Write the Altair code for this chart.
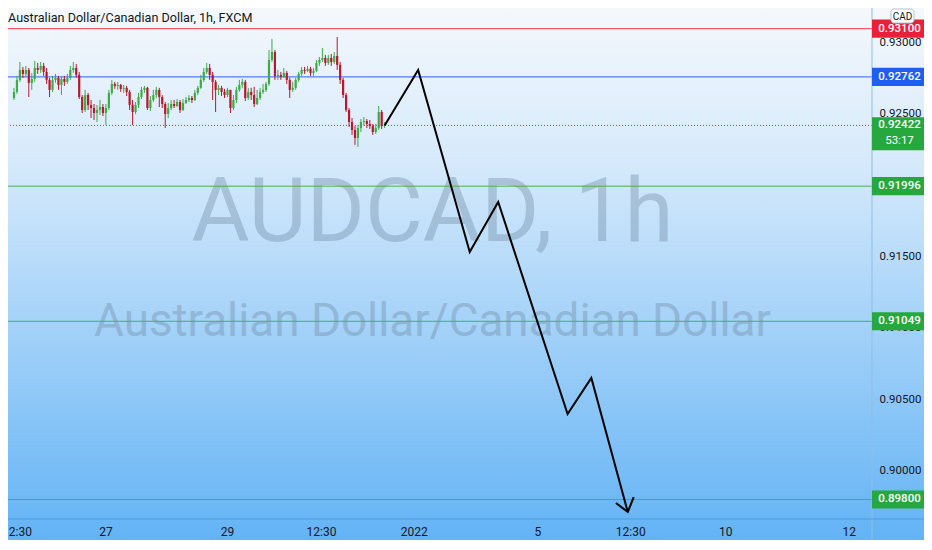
import altair as alt
import pandas as pd

# ---------------- data ----------------
title_text = "Australian Dollar/Canadian Dollar, 1h, FXCM"
wm_big = "AUDCAD, 1h"
wm_small = "Australian Dollar/Canadian Dollar"

first_index = 3
first_open = 0.92614
closes = [
    0.92657, 0.92741, 0.92811, 0.92783, 0.92811, 0.92720, 0.92748, 0.92825, 0.92811, 0.92839,
    0.92797, 0.92741, 0.92671, 0.92741, 0.92755, 0.92706, 0.92748, 0.92727, 0.92755, 0.92811,
    0.92825, 0.92776, 0.92621, 0.92530, 0.92635, 0.92565, 0.92544, 0.92509, 0.92530, 0.92551,
    0.92509, 0.92544, 0.92650, 0.92713, 0.92699, 0.92706, 0.92678, 0.92685, 0.92657, 0.92565,
    0.92516, 0.92565, 0.92621, 0.92671, 0.92685, 0.92544, 0.92600, 0.92635, 0.92671, 0.92621,
    0.92572, 0.92502, 0.92544, 0.92572, 0.92558, 0.92586, 0.92530, 0.92579, 0.92600, 0.92614,
    0.92600, 0.92650, 0.92685, 0.92741, 0.92797, 0.92825, 0.92776, 0.92727, 0.92671, 0.92685,
    0.92657, 0.92635, 0.92671, 0.92544, 0.92600, 0.92671, 0.92706, 0.92727, 0.92614, 0.92657,
    0.92635, 0.92572, 0.92614, 0.92657, 0.92671, 0.92713, 0.92881, 0.92937, 0.92769, 0.92776,
    0.92762, 0.92790, 0.92741, 0.92671, 0.92685, 0.92741, 0.92783, 0.92811, 0.92804, 0.92818,
    0.92790, 0.92804, 0.92860, 0.92881, 0.92895, 0.92860, 0.92895, 0.92867, 0.92909, 0.92846,
    0.92741, 0.92635, 0.92530, 0.92446, 0.92390, 0.92334, 0.92404, 0.92446, 0.92453, 0.92432,
    0.92418, 0.92376, 0.92404, 0.92516, 0.92418, 0.92422,
]
highs = [
    0.92685, 0.92769, 0.92867, 0.92832, 0.92839, 0.92825, 0.92790, 0.92874, 0.92860, 0.92867,
    0.92860, 0.92825, 0.92755, 0.92769, 0.92783, 0.92769, 0.92762, 0.92769, 0.92783, 0.92839,
    0.92867, 0.92853, 0.92797, 0.92635, 0.92671, 0.92650, 0.92600, 0.92572, 0.92565, 0.92600,
    0.92572, 0.92572, 0.92671, 0.92741, 0.92727, 0.92727, 0.92713, 0.92706, 0.92699, 0.92671,
    0.92600, 0.92586, 0.92650, 0.92692, 0.92699, 0.92692, 0.92628, 0.92671, 0.92692, 0.92685,
    0.92635, 0.92586, 0.92579, 0.92600, 0.92600, 0.92607, 0.92600, 0.92607, 0.92621, 0.92635,
    0.92628, 0.92671, 0.92699, 0.92776, 0.92825, 0.92860, 0.92853, 0.92797, 0.92741, 0.92706,
    0.92699, 0.92678, 0.92685, 0.92671, 0.92635, 0.92692, 0.92741, 0.92748, 0.92741, 0.92685,
    0.92685, 0.92692, 0.92671, 0.92685, 0.92713, 0.92727, 0.92951, 0.93028, 0.92951, 0.92811,
    0.92797, 0.92825, 0.92804, 0.92755, 0.92727, 0.92755, 0.92797, 0.92832, 0.92832, 0.92839,
    0.92832, 0.92825, 0.92881, 0.92902, 0.92965, 0.92916, 0.92916, 0.92923, 0.92937, 0.93042,
    0.92867, 0.92755, 0.92650, 0.92544, 0.92474, 0.92418, 0.92425, 0.92467, 0.92481, 0.92467,
    0.92460, 0.92432, 0.92432, 0.92558, 0.92530, 0.92446,
]
lows = [
    0.92600, 0.92643, 0.92727, 0.92755, 0.92762, 0.92621, 0.92671, 0.92727, 0.92783, 0.92790,
    0.92769, 0.92713, 0.92621, 0.92657, 0.92720, 0.92671, 0.92635, 0.92699, 0.92713, 0.92741,
    0.92790, 0.92755, 0.92607, 0.92509, 0.92516, 0.92530, 0.92474, 0.92460, 0.92446, 0.92495,
    0.92488, 0.92425, 0.92530, 0.92635, 0.92678, 0.92671, 0.92657, 0.92650, 0.92628, 0.92530,
    0.92425, 0.92502, 0.92544, 0.92607, 0.92650, 0.92530, 0.92523, 0.92586, 0.92614, 0.92551,
    0.92544, 0.92404, 0.92474, 0.92530, 0.92544, 0.92551, 0.92509, 0.92523, 0.92572, 0.92586,
    0.92579, 0.92593, 0.92635, 0.92678, 0.92727, 0.92783, 0.92741, 0.92600, 0.92516, 0.92635,
    0.92628, 0.92614, 0.92621, 0.92509, 0.92530, 0.92579, 0.92657, 0.92685, 0.92593, 0.92600,
    0.92600, 0.92551, 0.92565, 0.92600, 0.92643, 0.92657, 0.92699, 0.92867, 0.92741, 0.92741,
    0.92741, 0.92755, 0.92713, 0.92614, 0.92657, 0.92671, 0.92727, 0.92769, 0.92783, 0.92797,
    0.92769, 0.92769, 0.92797, 0.92839, 0.92867, 0.92839, 0.92846, 0.92839, 0.92853, 0.92811,
    0.92713, 0.92614, 0.92516, 0.92411, 0.92355, 0.92285, 0.92271, 0.92376, 0.92418, 0.92404,
    0.92397, 0.92355, 0.92362, 0.92390, 0.92397, 0.92404,
]

proj_x = [128, 139.3, 156.7, 166.3, 189.7, 197.7, 210]
proj_p = [0.92422, 0.92811, 0.91535, 0.91885, 0.90399, 0.90652, 0.89712]
arrow_x = [206, 210, 212]
arrow_p = [0.89775, 0.89712, 0.89817]

red_levels = [0.93100]
blue_levels = [0.92762]
green_levels = [0.91996, 0.91049, 0.89800]
last_price = 0.92422
countdown = "53:17"
currency = "CAD"

tick_prices = [0.93, 0.925, 0.92, 0.915, 0.91, 0.905, 0.90]
x_tick_pos = [4, 34, 75, 106.7, 138, 179.7, 211, 243, 284.7]
x_tick_labels = ["12:30", "27", "29", "12:30", "2022", "5", "12:30", "10", "12"]

# ---------------- layout / style ----------------
W, H = 864, 511
RIGHT, BOTTOM = 52, 21
FONT = "Roboto"
TXT = "#131722"
GREEN, RED = "#3dab47", "#b8172c"
BOX_CX = W + 27.5
BOX = "M -1 -0.33 L 1 -0.33 L 1 0.33 L -1 0.33 Z"
BOX_TALL = "M -1 -0.3 L 1 -0.3 L 1 0.9 L -1 0.9 Z"

xs = alt.Scale(domain=[2.67, 290.67], nice=False, zero=False)
ys = alt.Scale(domain=[0.89663, 0.93245], nice=False, zero=False)

n = len(closes)
opens = [first_open] + closes[:-1]
candles = pd.DataFrame({
    "i": list(range(first_index, first_index + n)),
    "o": opens,
    "c": closes,
    "h": [max(a, b, c) for a, b, c in zip(highs, opens, closes)],
    "l": [min(a, b, c) for a, b, c in zip(lows, opens, closes)],
})

one = pd.DataFrame({"a": [0]})

bg = alt.Chart(one).mark_rect(
    color=alt.Gradient(
        gradient="linear",
        stops=[alt.GradientStop(color="#f4f8fc", offset=0),
               alt.GradientStop(color="#d7eafb", offset=0.28),
               alt.GradientStop(color="#63b3f5", offset=1)],
        x1=0, x2=0, y1=0, y2=1,
    )
).encode(x=alt.value(0), x2=alt.value(W + RIGHT), y=alt.value(0), y2=alt.value(H + BOTTOM))

wm1 = alt.Chart(pd.DataFrame({"t": [wm_big]})).mark_text(
    font=FONT, fontSize=89, color="#6f8aa3", opacity=0.38, align="center", baseline="middle"
).encode(x=alt.value(424.5), y=alt.value(206), text="t:N")

wm2 = alt.Chart(pd.DataFrame({"t": [wm_small]})).mark_text(
    font=FONT, fontSize=45.8, color="#6f8aa3", opacity=0.38, align="center", baseline="middle"
).encode(x=alt.value(424.5), y=alt.value(314), text="t:N")

def level_rule(vals, color, dash=None):
    kw = dict(color=color, strokeWidth=1)
    if dash:
        kw["strokeDash"] = dash
    return alt.Chart(pd.DataFrame({"p": vals})).mark_rule(**kw).encode(
        y=alt.Y("p:Q", scale=ys, axis=None))

rules = (level_rule(red_levels, "#f23645") + level_rule(blue_levels, "#2962ff")
         + level_rule(green_levels, "#4caf50") + level_rule([last_price], "#b8404f", [1, 2]))

col = alt.condition(alt.datum.c >= alt.datum.o, alt.value(GREEN), alt.value(RED))
wicks = alt.Chart(candles).mark_rule(strokeWidth=1, clip=True).encode(
    x=alt.X("i:Q", scale=xs, axis=None),
    y=alt.Y("l:Q", scale=ys, axis=None), y2="h:Q", color=col)
bodies = alt.Chart(candles).mark_bar(width=2.2, clip=True).encode(
    x=alt.X("i:Q", scale=xs, axis=None),
    y=alt.Y("o:Q", scale=ys, axis=None), y2="c:Q", color=col)

proj = alt.Chart(pd.DataFrame({"x": proj_x, "p": proj_p, "k": list(range(len(proj_x)))})).mark_line(
    color="#000000", strokeWidth=2).encode(
    x=alt.X("x:Q", scale=xs, axis=None), y=alt.Y("p:Q", scale=ys, axis=None), order="k:Q")
arrow = alt.Chart(pd.DataFrame({"x": arrow_x, "p": arrow_p, "k": list(range(len(arrow_x)))})).mark_line(
    color="#000000", strokeWidth=2).encode(
    x=alt.X("x:Q", scale=xs, axis=None), y=alt.Y("p:Q", scale=ys, axis=None), order="k:Q")

vline = alt.Chart(one).mark_rule(color="#8fbde6", strokeWidth=1).encode(
    x=alt.value(W), y=alt.value(0), y2=alt.value(H + BOTTOM))
hline = alt.Chart(one).mark_rule(color="#4a9be0", strokeWidth=1).encode(
    y=alt.value(H), x=alt.value(0), x2=alt.value(W + RIGHT))

ylabels = alt.Chart(pd.DataFrame({"p": tick_prices})).mark_text(
    font=FONT, fontSize=11.5, color=TXT, align="center", baseline="middle").encode(
    x=alt.value(BOX_CX + 1), y=alt.Y("p:Q", scale=ys, axis=None),
    text=alt.Text("p:Q", format=".5f"))

xlabels = alt.Chart(pd.DataFrame({"x": x_tick_pos, "t": x_tick_labels})).mark_text(
    font=FONT, fontSize=12, color=TXT, align="center", baseline="middle").encode(
    x=alt.X("x:Q", scale=xs, axis=None), y=alt.value(H + 13), text="t:N")

def box(vals, color, shape=BOX):
    return alt.Chart(pd.DataFrame({"p": vals})).mark_point(
        shape=shape, size=3025, filled=True, opacity=1, color=color, strokeWidth=0).encode(
        x=alt.value(BOX_CX), y=alt.Y("p:Q", scale=ys, axis=None))

def box_text(vals):
    return alt.Chart(pd.DataFrame({"p": vals})).mark_text(
        font=FONT, fontSize=11.5, fontWeight=500, color="#ffffff", align="center", baseline="middle").encode(
        x=alt.value(BOX_CX), y=alt.Y("p:Q", scale=ys, axis=None),
        text=alt.Text("p:Q", format=".5f"))

boxes = (box(red_levels, "#e8213a") + box(blue_levels, "#1f5ff0")
         + box(green_levels, "#26a83e") + box([last_price], "#26a83e", BOX_TALL)
         + box_text(red_levels + blue_levels + green_levels + [last_price]))

cd = alt.Chart(pd.DataFrame({"p": [last_price], "t": [countdown]})).mark_text(
    font=FONT, fontSize=11.5, color="#ffffff", align="center", baseline="middle", dy=16).encode(
    x=alt.value(BOX_CX), y=alt.Y("p:Q", scale=ys, axis=None), text="t:N")

cad_box = alt.Chart(one).mark_rect(fill="#ffffff", stroke="#b7c2cf", strokeWidth=1, cornerRadius=3).encode(
    x=alt.value(W + 19), x2=alt.value(W + 42), y=alt.value(1), y2=alt.value(15))
cad_txt = alt.Chart(pd.DataFrame({"t": [currency]})).mark_text(
    font=FONT, fontSize=10, color=TXT, align="center", baseline="middle").encode(
    x=alt.value(W + 30.5), y=alt.value(8.5), text="t:N")

title = alt.Chart(pd.DataFrame({"t": [title_text]})).mark_text(
    font=FONT, fontSize=12.6, color=TXT, align="left", baseline="middle").encode(
    x=alt.value(0), y=alt.value(10), text="t:N")

chart = alt.layer(
    bg, wm1, wm2, rules, wicks, bodies, proj, arrow, vline, hline,
    ylabels, xlabels, boxes, cd, cad_box, cad_txt, title,
).properties(
    width=W, height=H,
    autosize=alt.AutoSizeParams(type="none"),
    padding={"left": 0, "top": 0, "right": RIGHT, "bottom": BOTTOM},
).configure_view(strokeWidth=0)

chart.save("out.html", embed_options={"renderer": "svg", "actions": False})
